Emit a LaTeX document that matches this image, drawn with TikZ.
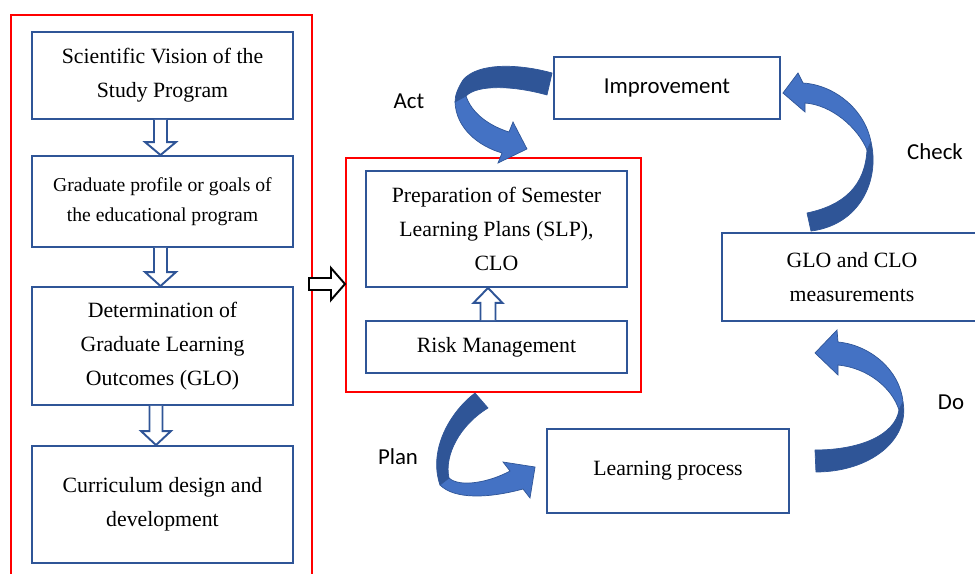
\documentclass[tikz,border=0pt]{standalone}
\usepackage{fontspec}
\setmainfont{Liberation Serif}
\newfontfamily\labelfont{Carlito}
\usetikzlibrary{calc}
\definecolor{boxblue}{HTML}{2F5597}
\definecolor{arrlight}{HTML}{4472C4}
\definecolor{arrdark}{HTML}{2F5597}
\definecolor{redline}{HTML}{FF0000}
\begin{document}
\begin{tikzpicture}[x=0.02cm,y=-0.02cm,
  box/.style={draw=boxblue, line width=1.1pt, fill=white, align=center, inner sep=0pt,
    font=\fontsize{12.4}{19.5}\selectfont},
  smallbox/.style={box, font=\fontsize{11.2}{17}\selectfont},
  redbox/.style={draw=redline, line width=1.2pt, inner sep=0pt},
  lbl/.style={font=\labelfont\fontsize{13}{15}\selectfont, inner sep=0pt},
  hollow/.style={draw=boxblue, line width=1.1pt, fill=white, line join=miter},
  hollowblack/.style={draw=black, line width=1.1pt, fill=white, line join=miter},
  ribdark/.style={fill=arrdark, draw=arrdark, line width=0.4pt, line join=round},
  riblight/.style={fill=arrlight, draw=arrdark, line width=0.4pt, line join=miter},
]
\useasboundingbox (0,0) rectangle (975,574);
\clip (0,0) rectangle (975,574);

% red containers
\node[redbox, minimum width=6.02cm, minimum height=11.5cm] (outer) at (161.5,302.5) {};
\node[redbox, minimum width=5.9cm, minimum height=4.68cm] (inner) at (493.5,275) {};

% left column
\node[box, minimum width=5.22cm, minimum height=1.74cm] (b1) at (162.5,75.5)
  {Scientific Vision of the\\Study Program};
\node[smallbox, minimum width=5.22cm, minimum height=1.82cm] (b2) at (162.5,201.5)
  {Graduate profile or goals of\\the educational program};
\node[box, minimum width=5.22cm, minimum height=2.36cm] (b3) at (162.5,346)
  {Determination of\\Graduate Learning\\Outcomes (GLO)};
\node[box, minimum width=5.22cm, minimum height=2.34cm] (b4) at (162.5,504.5)
  {Curriculum design and\\development};

% inner boxes
\node[box, minimum width=5.22cm, minimum height=2.32cm] (slp) at (496.5,229)
  {Preparation of Semester\\Learning Plans (SLP),\\CLO};
\node[box, minimum width=5.22cm, minimum height=1.04cm] (risk) at (496.5,347)
  {Risk Management};

% cycle boxes
\node[box, font=\labelfont\fontsize{13}{15}\selectfont, minimum width=4.52cm, minimum height=1.24cm] (imp) at (667,88)
  {Improvement};
\node[box, minimum width=5.2cm, minimum height=1.76cm] (glo) at (852,277)
  {GLO and CLO\\measurements};
\node[box, minimum width=4.84cm, minimum height=1.68cm] (learn) at (668,471)
  {Learning process};

% hollow block arrows, left column
\draw[hollow] ($(b1.south)+(-8.5,0)$) -- ($(b2.north)+(-8.5,-13)$) -- ($(b2.north)+(-17.5,-13)$)
  -- ($(b2.north)+(-2,0)$) -- ($(b2.north)+(13.5,-13)$) -- ($(b2.north)+(4.5,-13)$) -- ($(b1.south)+(4.5,0)$);
\draw[hollow] ($(b2.south)+(-8.5,0)$) -- ($(b3.north)+(-8.5,-14)$) -- ($(b3.north)+(-17.5,-14)$)
  -- ($(b3.north)+(-2,0)$) -- ($(b3.north)+(13.5,-14)$) -- ($(b3.north)+(4.5,-14)$) -- ($(b2.south)+(4.5,0)$);
\draw[hollow] ($(b3.south)+(-13,0)$) -- ($(b4.north)+(-13,-14)$) -- ($(b4.north)+(-21.5,-14)$)
  -- ($(b4.north)+(-6.5,0)$) -- ($(b4.north)+(8.5,-14)$) -- ($(b4.north)+(0,-14)$) -- ($(b3.south)+(0,0)$);

% up arrow risk -> slp
\draw[hollow] ($(risk.north)+(-16,0)$) -- ($(slp.south)+(-16,15)$) -- ($(slp.south)+(-23,15)$)
  -- ($(slp.south)+(-8.5,0)$) -- ($(slp.south)+(6,15)$) -- ($(slp.south)+(-1,15)$) -- ($(risk.north)+(-1,0)$);

% black arrow outer -> inner
\coordinate (bt) at ($(inner.west)+(0,9)$);
\draw[hollowblack] ($(bt)+(-36,-6)$) -- ($(bt)+(-14,-6)$) -- ($(bt)+(-14,-16)$) -- (bt)
  -- ($(bt)+(-14,16)$) -- ($(bt)+(-14,6)$) -- ($(bt)+(-36,6)$) -- cycle;

% Act: imp -> inner
\coordinate (actS) at ($(imp.west)+(-1,-15)$);
\draw[ribdark] (actS) .. controls (520,64) and (478,62) .. (463,80)
  .. controls (458,88) and (455,95) .. (455,102) -- (466,96)
  .. controls (478,84) and (515,86) .. (547,95) -- cycle;
\draw[riblight] (455,102) .. controls (456,128) and (478,146) .. (502,153) -- (498,163)
  -- ($(inner.north)+(33.5,-8)$) -- (513,122) -- (509,132)
  .. controls (490,126) and (472,114) .. (466,96) -- cycle;

% Check: glo -> imp
\draw[ribdark] (871,142) .. controls (880,180) and (860,225) .. ($(glo.north)+(-41,-1)$)
  -- (807,213) .. controls (845,205) and (865,185) .. (867,150) -- cycle;
\draw[riblight] (803,83) .. controls (835,85) and (865,110) .. (871,142) -- (867,150)
  .. controls (858,128) and (832,105) .. (805,103) -- (805,112) -- ($(imp.east)+(2,5)$)
  -- (798,73) -- cycle;

% Do: learn -> glo
\draw[ribdark] (903,402) .. controls (910,440) and (870,472) .. ($(learn.east)+(26,1)$)
  -- (815,450) .. controls (860,450) and (895,435) .. (899,410) -- cycle;
\draw[riblight] (838,342) .. controls (870,345) and (900,370) .. (903,402) -- (899,410)
  .. controls (892,388) and (868,368) .. (838,365) -- (838,375) -- ($(glo.south)+(-37,31)$)
  -- (837,330) -- cycle;

% Plan: inner -> learn
\draw[ribdark] ($(inner.south)+(-18.5,0)$) .. controls (450,412) and (428,450) .. (440,485)
  -- (449,478) .. controls (444,455) and (460,425) .. (488,408) -- cycle;
\draw[riblight] (440,485) .. controls (455,500) and (490,498) .. (523,489) -- (530,498)
  -- ($(learn.west)+(-11,-4)$) -- (503,462) -- (510,471)
  .. controls (490,482) and (460,488) .. (449,478) -- cycle;

% labels
\node[lbl] (act) at (409,101) {Act};
\node[lbl] (check) at (935,152) {Check};
\node[lbl] (do) at (951,402) {Do};
\node[lbl] (plan) at (398,457) {Plan};
\end{tikzpicture}
\end{document}
